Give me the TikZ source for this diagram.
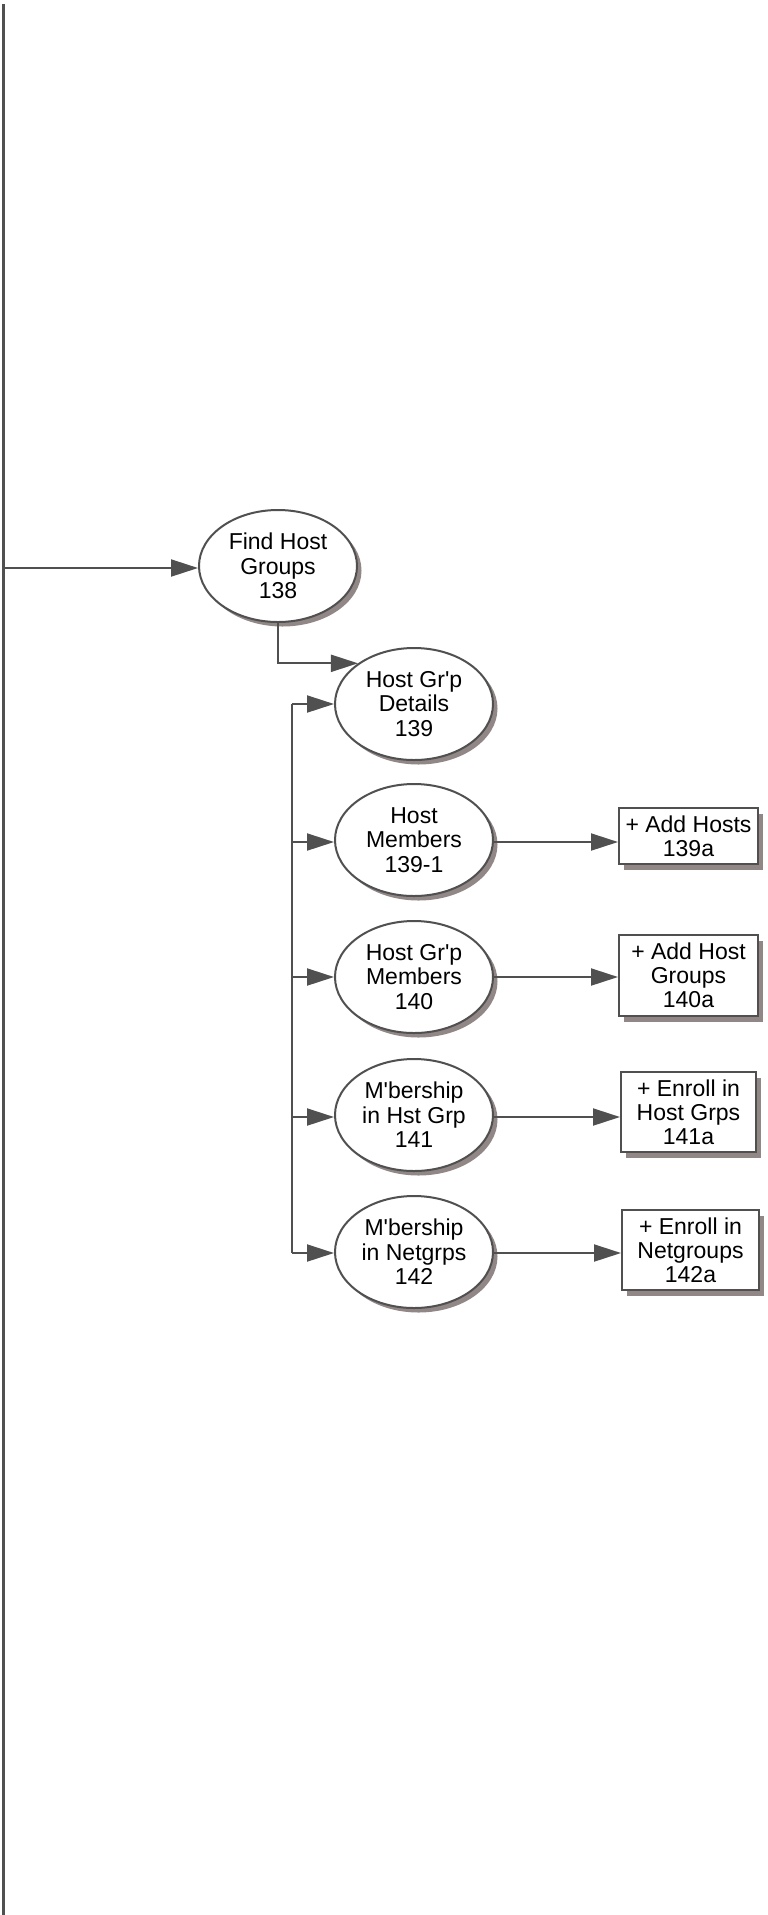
\documentclass[tikz,border=0pt]{standalone}
\usepackage{fontspec}
\setmainfont{Liberation Sans}[Ligatures=TeXOff]
\usetikzlibrary{arrows.meta,shadows,shapes.geometric}
\definecolor{linec}{RGB}{80,80,80}
\definecolor{shadowc}{RGB}{145,135,135}
\tikzset{
  proc/.style={ellipse, draw=linec, line width=2pt, fill=white, minimum width=158pt, minimum height=112pt, inner sep=0pt, align=center,
    font=\fontsize{23}{24.5}\selectfont,
    drop shadow={shadow xshift=4.5pt, shadow yshift=-4.5pt, fill=shadowc, opacity=1}},
  act/.style={rectangle, draw=linec, line width=2pt, fill=white, inner sep=0pt, align=center,
    font=\fontsize{23}{24}\selectfont,
    drop shadow={shadow xshift=5pt, shadow yshift=-6pt, fill=shadowc, opacity=1}},
  conn/.style={draw=linec, line width=2pt, -{Triangle[length=27pt,width=17pt]}},
}
\begin{document}
\begin{tikzpicture}[x=1pt,y=-1pt]
\useasboundingbox (0,0) rectangle (768,1915);
\fill[white] (0,0) rectangle (768,1915);
\coordinate (top) at (3.5,4);
\coordinate (bot) at (3.5,1915);
\draw[linec, line width=2.6pt] (top) -- (bot);

\node[proc] (fh) at (278,566) {Find Host\\Groups\\138};
\node[proc] (d139) at (414,704) {Host Gr'p\\Details\\139};
\node[proc] (m139) at (414,840) {Host\\Members\\139-1};
\node[proc] (m140) at (414,977) {Host Gr'p\\Members\\140};
\node[proc] (m141) at (414,1115) {M'bership\\in Hst Grp\\141};
\node[proc] (m142) at (414,1252) {M'bership\\in Netgrps\\142};

\node[act, minimum width=139pt, minimum height=56pt] (a139) at (688.5,836) {+ Add Hosts\\139a};
\node[act, minimum width=139pt, minimum height=81pt] (a140) at (688.5,975.5) {+ Add Host\\Groups\\140a};
\node[act, minimum width=135pt, minimum height=80pt] (a141) at (688.5,1112) {+ Enroll in\\Host Grps\\141a};
\node[act, minimum width=137pt, minimum height=80pt] (a142) at (690.5,1250) {+ Enroll in\\Netgroups\\142a};

\coordinate (j0) at (3.5,568);
\draw[conn] (j0) -- (fh.west |- j0);
\draw[conn] (fh.south) |- (d139.144);

\coordinate (b0) at (292,704);
\coordinate (b4) at (292,1253);
\draw[linec, line width=2pt] (b0) -- (b4);
\draw[conn] (b0) -- (d139.west);
\draw[conn] (292,842) -- (m139.west |- 0,842);
\draw[conn] (292,977) -- (m140.west);
\draw[conn] (292,1117) -- (m141.west |- 0,1117);
\draw[conn] (b4) -- (m142.west |- b4);

\draw[conn] (m139.east |- 0,842) -- (a139.west |- 0,842);
\draw[conn] (m140.east) -- (a140.west |- m140.east);
\draw[conn] (m141.east |- 0,1117) -- (a141.west |- 0,1117);
\draw[conn] (m142.east |- 0,1253) -- (a142.west |- 0,1253);
\end{tikzpicture}
\end{document}
